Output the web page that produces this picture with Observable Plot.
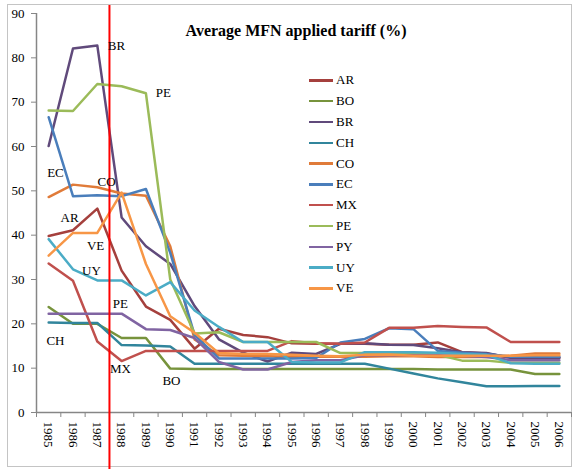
<!DOCTYPE html>
<html>
<head>
<meta charset="utf-8">
<script src="https://cdn.jsdelivr.net/npm/d3@7"></script>
<script src="https://cdn.jsdelivr.net/npm/@observablehq/plot@0.6"></script>
<style>
  html, body { margin: 0; padding: 0; background: #fff; }
  #wrap { position: relative; width: 574px; height: 469px; overflow: hidden; font-family: "Liberation Serif", "Times New Roman", serif; }
  #border { position: absolute; left: 7px; top: 4px; width: 565px; height: 463px; border: 1px solid #c4c4c4; box-sizing: border-box; }
  #chart { position: absolute; left: 0; top: 0; }
  #legend { position: absolute; left: 309px; top: 70px; font-size: 13px; color: #000; }
  .row { height: 20.8px; display: flex; align-items: center; }
  .sw { width: 24px; height: 2.5px; margin-right: 3px; }
</style>
</head>
<body>
<div id="wrap">
  <div id="border"></div>
  <div id="chart"></div>
  <div id="legend"></div>
</div>
<script>
const title = "Average MFN applied tariff (%)";
const years = [1985, 1986, 1987, 1988, 1989, 1990, 1991, 1992, 1993, 1994, 1995, 1996, 1997, 1998, 1999, 2000, 2001, 2002, 2003, 2004, 2005, 2006];
const yTicks = [0, 10, 20, 30, 40, 50, 60, 70, 80, 90];
const countries = ["AR", "BO", "BR", "CH", "CO", "EC", "MX", "PE", "PY", "UY", "VE"];
const colors = ["#A5403D", "#77933C", "#604A7B", "#31859C", "#E07B39", "#4A7EBB", "#C0504D", "#9BBB59", "#8064A2", "#4BACC6", "#F79646"];

const AR = [39.8, 41.1, 46.0, 32.0, 23.9, 20.9, 14.4, 18.9, 17.5, 17.0, 15.6, 15.5, 15.5, 15.5, 15.3, 15.3, 15.8, 13.6, 13.3, 12.4, 12.4, 12.4];
const BO = [23.8, 20.0, 20.0, 16.8, 16.8, 9.9, 9.8, 9.8, 9.8, 9.8, 9.8, 9.8, 9.8, 9.8, 9.8, 9.8, 9.7, 9.7, 9.7, 9.7, 8.7, 8.7];
const BR = [60.1, 82.1, 82.8, 44.0, 37.5, 33.5, 24.0, 16.5, 13.5, 11.5, 13.5, 13.2, 15.5, 15.6, 15.3, 15.2, 14.5, 13.6, 13.4, 12.3, 12.3, 12.3];
const CH = [20.3, 20.2, 20.2, 15.2, 15.1, 14.9, 11.0, 11.0, 11.0, 11.0, 11.0, 11.0, 11.0, 11.0, 9.9, 8.8, 7.7, 6.8, 5.9, 5.9, 6.0, 6.0];
const CO = [48.6, 51.4, 50.8, 49.4, 48.9, 37.5, 16.5, 12.9, 12.8, 12.7, 12.6, 12.6, 12.6, 12.6, 12.7, 12.7, 12.5, 12.5, 12.5, 12.8, 13.3, 13.3];
const EC = [66.6, 48.8, 49.0, 48.8, 50.4, 36.0, 17.5, 12.2, 12.2, 12.2, 12.2, 12.3, 15.8, 16.6, 19.0, 18.8, 13.9, 13.5, 13.2, 12.6, 12.6, 12.6];
const MX = [33.6, 29.7, 16.0, 11.6, 13.9, 13.9, 13.9, 13.9, 13.9, 13.9, 16.1, 15.6, 15.5, 15.8, 19.1, 19.1, 19.5, 19.3, 19.2, 15.9, 15.9, 15.9];
const PE = [68.1, 68.0, 74.1, 73.6, 72.0, 30.0, 17.8, 18.1, 15.9, 15.9, 15.9, 15.9, 13.4, 13.4, 13.4, 13.3, 13.0, 11.7, 11.7, 11.2, 11.2, 11.2];
const PY = [22.3, 22.3, 22.3, 22.3, 18.8, 18.6, 16.8, 11.4, 9.7, 9.7, 11.4, 11.8, 11.8, 12.9, 12.9, 12.9, 12.9, 12.8, 12.5, 11.8, 11.8, 11.8];
const UY = [39.1, 32.3, 29.8, 29.8, 26.4, 29.4, 23.0, 19.3, 15.9, 15.9, 11.4, 11.3, 11.3, 13.6, 13.6, 13.6, 13.5, 13.2, 13.0, 11.1, 11.0, 11.0];
const VE = [35.4, 40.5, 40.5, 49.6, 33.5, 21.7, 18.0, 13.4, 13.2, 13.2, 13.0, 12.8, 12.7, 13.0, 13.1, 12.8, 12.8, 12.8, 12.8, 12.8, 12.9, 12.9];

// in-chart labels, placed in data space (year, tariff %)
const labelText = ["BR", "PE", "EC", "CO", "AR", "VE", "UY", "PE", "CH", "MX", "BO"];
const labelYear = [1987.79, 1989.72, 1985.28, 1987.38, 1985.86, 1986.93, 1986.76, 1987.95, 1985.28, 1987.95, 1990.05];
const labelValue = [82.8, 72.0, 54.0, 52.1, 44.0, 37.5, 32.0, 24.6, 16.2, 9.9, 7.2];

const divider = 1987.5; // WTO-era marker between 1987 and 1988

const seriesMap = {AR, BO, BR, CH, CO, EC, MX, PE, PY, UY, VE};
const data = countries.flatMap(c => years.map((y, i) => ({country: c, year: y, value: seriesMap[c][i]})));
const labels = labelText.map((t, i) => ({t, year: labelYear[i], value: labelValue[i]}));
const xDomain = [years[0] - 0.5, years[years.length - 1] + 0.5];
const boundaries = years.map(y => y - 0.5).concat([years[years.length - 1] + 0.5]);

const chart = Plot.plot({
  width: 574,
  height: 469,
  marginLeft: 36,
  marginRight: 3,
  marginTop: 13,
  marginBottom: 57,
  style: {fontFamily: "'Liberation Serif', 'Times New Roman', serif", fontSize: "13px", background: "transparent", color: "#000", overflow: "visible"},
  x: {type: "linear", domain: xDomain},
  y: {domain: [0, 90]},
  color: {domain: countries, range: colors},
  marks: [
    Plot.axisY({ticks: yTicks, tickSize: 5, tickPadding: 7, stroke: "#868686", tickFormat: d => String(d), label: null, fill: "#000"}),
    Plot.axisX({ticks: boundaries, tickSize: 5, tickFormat: () => "", stroke: "#868686", label: null}),
    Plot.axisX({ticks: years, tickSize: 0, tickPadding: 9, tickRotate: 90, tickFormat: d => String(d), label: null, fill: "#000"}),
    Plot.ruleX([xDomain[0]], {stroke: "#868686", strokeWidth: 1.5}),
    Plot.ruleY([0], {stroke: "#868686", strokeWidth: 1.5}),
    Plot.line(data, {x: "year", y: "value", z: "country", stroke: "country", strokeWidth: 2.5, strokeLinejoin: "round"}),
    Plot.ruleX([divider], {stroke: "#FF0000", strokeWidth: 2, insetTop: -8, insetBottom: -57}),
    Plot.text(labels, {x: "year", y: "value", text: "t", fill: "#000", fontSize: 13}),
    Plot.text([title], {frameAnchor: "top", dx: -8, dy: 11, fontWeight: "bold", fontSize: 16, fill: "#000"})
  ]
});
document.getElementById("chart").appendChild(chart);

const legend = document.getElementById("legend");
countries.forEach((c, i) => {
  const row = document.createElement("div");
  row.className = "row";
  const sw = document.createElement("div");
  sw.className = "sw";
  sw.style.background = colors[i];
  const tx = document.createElement("span");
  tx.textContent = c;
  row.appendChild(sw);
  row.appendChild(tx);
  legend.appendChild(row);
});
</script>
</body>
</html>
